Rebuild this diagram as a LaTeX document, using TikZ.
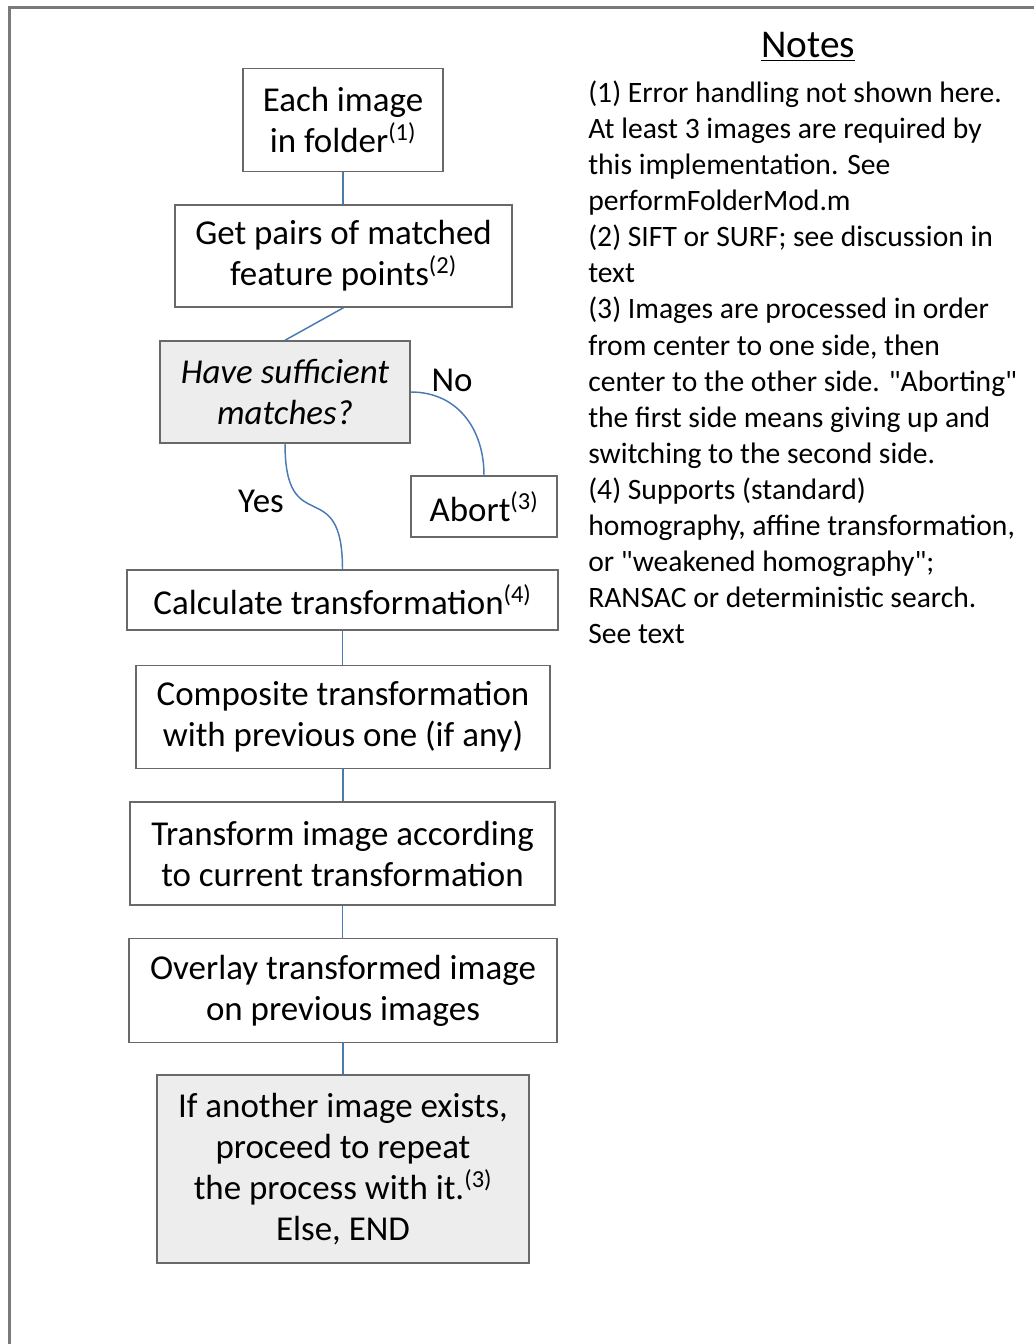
\documentclass[tikz,border=0pt]{standalone}
\usepackage{fontspec}
\setmainfont{Carlito}[Ligatures=TeXOff]
\newcommand\pxu{0.75pt}
\newcommand\boxfont{\fontsize{26.2}{30.75}\selectfont}
\newcommand\notefont{\fontsize{22.2}{27}\selectfont}
\newcommand\titlefont{\fontsize{29.5}{32}\selectfont}
\definecolor{boxgray}{RGB}{105,105,105}
\definecolor{fillgray}{RGB}{237,237,237}
\definecolor{framegray}{RGB}{122,122,122}
\definecolor{linkblue}{RGB}{74,122,180}
\begin{document}
\begin{tikzpicture}[x=0.75pt,y=-0.75pt,
  box/.style={draw=boxgray,line width=1.1pt,inner sep=0pt,align=center,font=\boxfont,fill=white},
  graybox/.style={box,fill=fillgray},
  link/.style={draw=linkblue,line width=1.1pt},
  lbl/.style={font=\boxfont,inner sep=0pt},
  noteline/.style={font=\notefont,anchor=base west,inner sep=0pt}]
\useasboundingbox (0,0) rectangle (1034,1344);
\fill[white] (0,0) rectangle (1034,1344);
\draw[framegray,line width=2.25pt] (9.5,1344) -- (9.5,7.5) -- (1034,7.5);

% flowchart boxes
\node[box, minimum width=200*\pxu, minimum height=103*\pxu] (b1) at (343,120) {Each image\\in folder\textsuperscript{(1)}};
\node[box, minimum width=337*\pxu, minimum height=102*\pxu] (b2) at (343.5,256) {Get pairs of matched\\feature points\textsuperscript{(2)}};
\node[graybox, minimum width=250*\pxu, minimum height=102*\pxu] (b3) at (285,392) {\itshape Have sufficient\\\itshape matches?};
\node[box, minimum width=146*\pxu, minimum height=61*\pxu] (abort) at (484,506.5) {Abort\textsuperscript{(3)}};
\node[box, minimum width=431*\pxu, minimum height=60*\pxu] (b5) at (342.5,600) {Calculate transformation\textsuperscript{(4)}};
\node[box, minimum width=414*\pxu, minimum height=103*\pxu] (b6) at (343,717) {Composite transformation\\with previous one (if any)};
\node[box, minimum width=425*\pxu, minimum height=103*\pxu] (b7) at (342.5,853.5) {Transform image according\\to current transformation};
\node[box, minimum width=428*\pxu, minimum height=104*\pxu] (b8) at (343,990.5) {Overlay transformed image\\on previous images};
\node[graybox, minimum width=372*\pxu, minimum height=188*\pxu] (b9) at (343,1169) {If another image exists,\\proceed to repeat\\the process with it.\textsuperscript{(3)}\\Else, END};

% connectors
\draw[link] (b1.south) -- (b1.south |- b2.north);
\draw[link] (b2.south) -- (b3.north);
\draw[link] (b3.east) .. controls +(47,0) and +(0,-46) .. (abort.north);
\draw[link] (b3.south) .. controls +(0,98) and +(0,-98) .. (b5.north);
\draw[link] (b5.south) -- (b5.south |- b6.north);
\draw[link] (b6.south) -- (b6.south |- b7.north);
\draw[link] (b7.south) -- (b7.south |- b8.north);
\draw[link] (b8.south) -- (b8.south |- b9.north);

% labels
\node[lbl, anchor=base] (no) at (452,391) {No};
\node[lbl, anchor=base] (yes) at (261,512) {Yes};

% notes
\node[inner sep=0pt, font=\titlefont, anchor=base] (title) at (808,58) {\underline{Notes}};
\foreach \t [count=\i] in {
  {(1) Error handling not shown here.},
  {At least 3 images are required by},
  {this implementation. See},
  {performFolderMod.m},
  {(2) SIFT or SURF; see discussion in},
  {text},
  {(3) Images are processed in order},
  {from center to one side, then},
  {center to the other side. "Aborting"},
  {the first side means giving up and},
  {switching to the second side.},
  {(4) Supports (standard)},
  {homography, affine transformation,},
  {or "weakened homography";},
  {RANSAC or deterministic search.},
  {See text}}
  \node[noteline, name=n\i] at (588,{103+36*(\i-1)}) {\t};
\end{tikzpicture}
\end{document}
